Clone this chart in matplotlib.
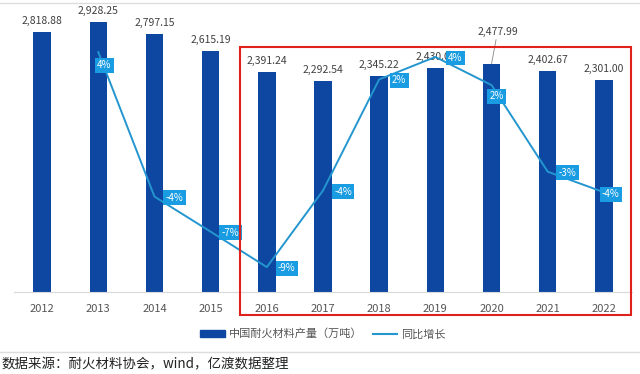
import numpy as np
import matplotlib.pyplot as plt
from matplotlib.patches import Rectangle
from matplotlib.lines import Line2D

plt.rcParams['font.family'] = ['Noto Sans CJK SC', 'DejaVu Sans']

# 数据
years = ['2012', '2013', '2014', '2015', '2016', '2017', '2018', '2019', '2020', '2021', '2022']
output = [2818.88, 2928.25, 2797.15, 2615.19, 2391.24, 2292.54, 2345.22, 2430.00, 2477.99, 2402.67, 2301.00]
yoy_years = years[1:]
yoy = [3.88, -4.48, -6.51, -8.56, -4.13, 2.30, 3.60, 1.97, -3.04, -4.23]

bar_color = '#0D47A1'
line_color = '#2496CF'
box_color = '#1A9CE2'

W, H = 640, 374
fig = plt.figure(figsize=(W / 100, H / 100), dpi=100)

# 轴的位置（像素）
left, right, top, bottom = 14, 632, 12, 292
ax = fig.add_axes([left / W, 1 - bottom / H, (right - left) / W, (bottom - top) / H])
x = np.arange(len(years))
ax.bar(x, output, width=0.31, color=bar_color, zorder=2)
ax.set_xlim(-0.5, len(years) - 0.5)
ax.set_ylim(0, 3040)
ax.set_yticks([])
ax.set_xticks(x)
ax.set_xticklabels(years, fontsize=8, color='#555555')
ax.tick_params(axis='x', length=0, pad=9)
for s in ['top', 'right', 'left']:
    ax.spines[s].set_visible(False)
ax.spines['bottom'].set_color('#d9d9d9')

# 柱子数值标签
for i, v in enumerate(output):
    txt = f'{v:,.2f}'
    if years[i] == '2020':
        ax.annotate(txt, (i, v), xytext=(6, 27), textcoords='offset pixels',
                    ha='center', va='bottom', fontsize=7.5, color='#404040',
                    arrowprops=dict(arrowstyle='-', color='#888888', lw=0.6,
                                    shrinkA=0, shrinkB=0))
    else:
        ax.annotate(txt, (i, v), xytext=(0, 6), textcoords='offset pixels',
                    ha='center', va='bottom', fontsize=7.5, color='#404040')

# 同比增长折线
ax2 = ax.twinx()
xi = np.arange(1, len(years))
ax2.plot(xi, yoy, color=line_color, lw=1.4, zorder=3)
ax2.set_ylim(-10.0, 6.2)
ax2.set_yticks([])
for s in ['top', 'right', 'left', 'bottom']:
    ax2.spines[s].set_visible(False)

offsets = {'2013': (6, -13), '2020': (5, -11), '2022': (7, -2)}
for xx, yr, v in zip(xi, yoy_years, yoy):
    dx, dy = offsets.get(yr, (20, -1))
    ax2.annotate(f'{v:.0f}%', (xx, v), xytext=(dx, dy), textcoords='offset pixels',
                 ha='center', va='center', fontsize=7, color='white', zorder=5,
                 bbox=dict(boxstyle='square,pad=0.25', fc=box_color, ec='none'))

# 红框
fig.patches.append(Rectangle((240 / W, 1 - 315 / H), (631 - 240) / W, (315 - 47) / H,
                             transform=fig.transFigure, fill=False, ec='#E0201B', lw=1.5))

# 图例
h1 = Rectangle((0, 0), 1, 1, color=bar_color)
h2 = Line2D([0], [0], color=line_color, lw=1.5)
fig.legend([h1, h2], ['中国耐火材料产量（万吨）', '同比增长'], loc='center',
           bbox_to_anchor=(323 / W, 1 - 334 / H), ncol=2, frameon=False,
           fontsize=8, handlelength=2.2, handleheight=0.6, handletextpad=0.4,
           columnspacing=0.9, labelcolor='#555555')

# 边框线
fig.add_artist(Line2D([0, 1], [1 - 3 / H, 1 - 3 / H], color='#dddddd', lw=1))
fig.add_artist(Line2D([0, 1], [1 - 352 / H, 1 - 352 / H], color='#dddddd', lw=1))

fig.text(2 / W, 1 - 364 / H, '数据来源：耐火材料协会，wind，亿渡数据整理',
         fontsize=9.7, color='#222222', ha='left', va='center')

fig.savefig('out.png', dpi=100)
